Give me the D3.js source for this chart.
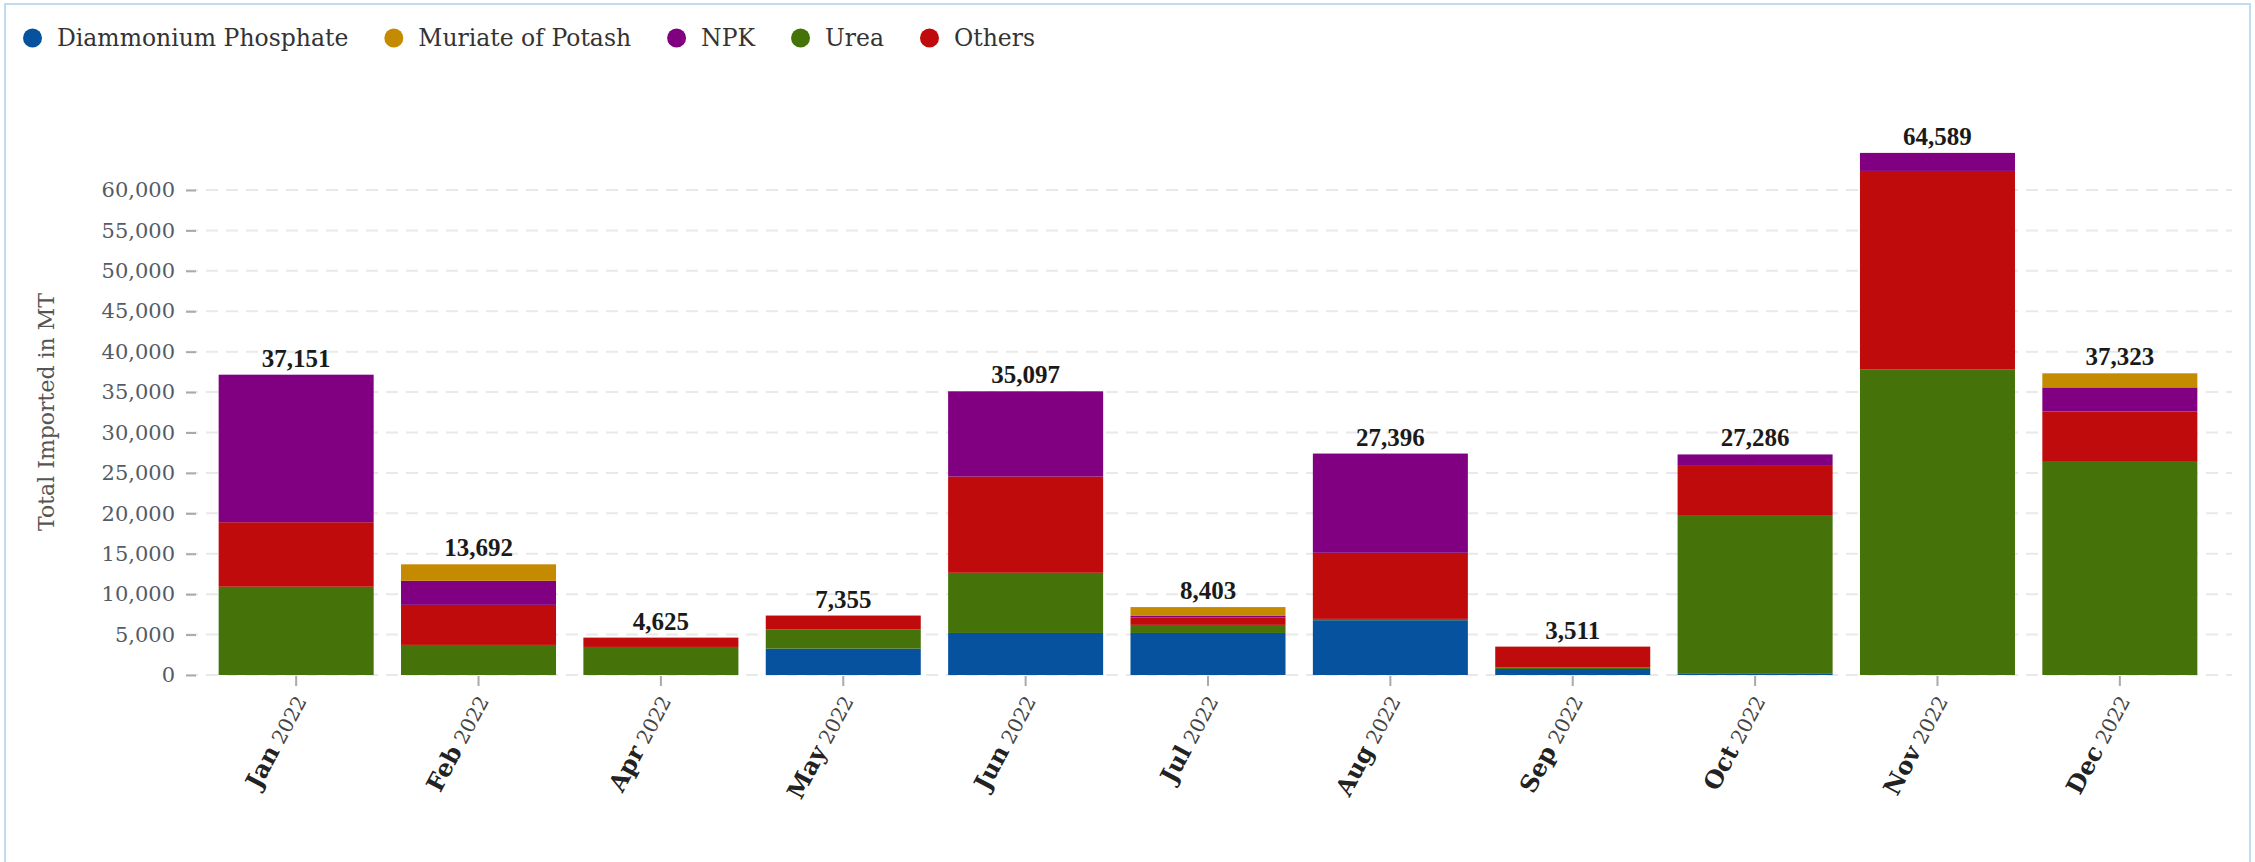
<!DOCTYPE html>
<html>
<head>
<meta charset="utf-8">
<script src="https://cdn.jsdelivr.net/npm/d3@7"></script>
<style>
  body { margin: 0; background: #fff; }
</style>
</head>
<body>
<div id="fertImports"></div>
<script>
// months shown on the x axis (Mar 2022 has no data)
var months = ["Jan", "Feb", "Apr", "May", "Jun", "Jul", "Aug", "Sep", "Oct", "Nov", "Dec"];
var year = "2022";

// series, in legend order
var products = ["Diammonium Phosphate", "Muriate of Potash", "NPK", "Urea", "Others"];
var colors = ["#07529f", "#c48a00", "#810081", "#45730a", "#bf0b0b"];

// stacking order, bottom to top
var stackOrder = ["Diammonium Phosphate", "Urea", "Others", "NPK", "Muriate of Potash"];

// tonnes imported per month (MT)
var dap    = [0,     0,    0,    3260, 5200,  5200, 6780,  740,  140,   0,     0];
var mop    = [0,     2040, 0,    0,    0,     1093, 0,     0,    0,     0,     1743];
var npk    = [18250, 2975, 0,    0,    10552, 200,  12276, 0,    1416,  2229,  2980];
var urea   = [10920, 3720, 3470, 2400, 7445,  1000, 160,   210,  19550, 37780, 26370];
var others = [7981,  4957, 1155, 1695, 11900, 910,  8180,  2561, 6180,  24580, 6230];

var yTicks = [0, 5000, 10000, 15000, 20000, 25000, 30000, 35000, 40000, 45000, 50000, 55000, 60000];

var seriesValues = {
  "Diammonium Phosphate": dap,
  "Muriate of Potash": mop,
  "NPK": npk,
  "Urea": urea,
  "Others": others
};

var data = months.map(function(m, i) {
  var row = { month: m };
  products.forEach(function(p) { row[p] = seriesValues[p][i]; });
  row.total = d3.sum(products, function(p) { return row[p]; });
  return row;
});

var width = 2255;
var height = 862;

var svg = d3.select("#fertImports")
  .append("svg")
  .attr("width", width)
  .attr("height", height)
  .style("display", "block");

// card border
svg.append("rect")
  .attr("x", 5)
  .attr("y", 4)
  .attr("width", 2245)
  .attr("height", 900)
  .attr("fill", "none")
  .attr("stroke", "#c3dbf0")
  .attr("stroke-width", 2);

var color = d3.scaleOrdinal().domain(products).range(colors);

var x = d3.scaleBand()
  .domain(months)
  .range([184, 2232])
  .paddingInner(0.15)
  .paddingOuter(0.19);

var y = d3.scaleLinear()
  .domain([0, 60000])
  .range([675, 190]);

// gridlines
svg.append("g")
  .selectAll("line")
  .data(yTicks)
  .enter()
  .append("line")
  .attr("x1", 186)
  .attr("x2", 2232)
  .attr("y1", function(d) { return y(d); })
  .attr("y2", function(d) { return y(d); })
  .attr("stroke", "#e9e9e9")
  .attr("stroke-width", 2)
  .attr("stroke-dasharray", "12,8");

// Y axis
var yAxis = svg.append("g")
  .attr("transform", "translate(196,0)")
  .call(d3.axisLeft(y).tickValues(yTicks).tickSize(10).tickPadding(11).tickFormat(d3.format(",")));

yAxis.select(".domain").remove();
yAxis.selectAll(".tick line").attr("stroke", "#aaaaaa").attr("stroke-width", 2);
yAxis.selectAll(".tick text")
  .style("font-family", "'DejaVu Serif', serif")
  .style("font-size", "21px")
  .attr("fill", "#555b66");

svg.append("text")
  .attr("transform", "translate(46,412) rotate(-90)")
  .attr("text-anchor", "middle")
  .attr("dy", "0.35em")
  .style("font-family", "'DejaVu Serif', serif")
  .style("font-size", "22px")
  .attr("fill", "#555555")
  .text("Total Imported in MT");

// stacked bars
var stacked = d3.stack().keys(stackOrder)(data);

svg.append("g")
  .selectAll("g")
  .data(stacked)
  .enter()
  .append("g")
  .attr("fill", function(d) { return color(d.key); })
  .selectAll("rect")
  .data(function(d) { return d; })
  .enter()
  .append("rect")
  .attr("x", function(d) { return x(d.data.month); })
  .attr("y", function(d) { return y(d[1]); })
  .attr("width", x.bandwidth())
  .attr("height", function(d) { return y(d[0]) - y(d[1]); });

// totals above bars
svg.append("g")
  .selectAll("text")
  .data(data)
  .enter()
  .append("text")
  .attr("x", function(d) { return x(d.month) + x.bandwidth() / 2; })
  .attr("y", function(d) { return y(d.total) - 8; })
  .attr("text-anchor", "middle")
  .style("font-family", "'Liberation Serif', serif")
  .style("font-weight", "bold")
  .style("font-size", "25px")
  .attr("fill", "#1a1a1a")
  .text(function(d) { return d3.format(",")(d.total); });

// X axis ticks and rotated labels
var xAxis = svg.append("g");

xAxis.selectAll("line")
  .data(months)
  .enter()
  .append("line")
  .attr("x1", function(d) { return x(d) + x.bandwidth() / 2; })
  .attr("x2", function(d) { return x(d) + x.bandwidth() / 2; })
  .attr("y1", 676)
  .attr("y2", 686)
  .attr("stroke", "#aaaaaa")
  .attr("stroke-width", 2);

var xLabels = xAxis.selectAll("text")
  .data(months)
  .enter()
  .append("text")
  .attr("transform", function(d) {
    return "translate(" + (x(d) + x.bandwidth() / 2 + 6) + ",698) rotate(-62)";
  })
  .attr("text-anchor", "end")
  .attr("dy", "0.35em")
  .style("font-family", "'DejaVu Serif', serif");

xLabels.append("tspan")
  .style("font-size", "24px")
  .style("font-weight", "bold")
  .attr("fill", "#222222")
  .text(function(d) { return d; });

xLabels.append("tspan")
  .style("font-size", "20px")
  .attr("fill", "#444444")
  .text(" " + year);

// Legend
var legend = svg.append("g");
var cur = 23;
products.forEach(function(p) {
  legend.append("circle")
    .attr("cx", cur + 9.5)
    .attr("cy", 38)
    .attr("r", 9.5)
    .style("fill", color(p));
  var t = legend.append("text")
    .attr("x", cur + 34)
    .attr("y", 38)
    .attr("dy", "0.35em")
    .style("font-family", "'DejaVu Serif', serif")
    .style("font-size", "23.5px")
    .attr("fill", "#333333")
    .text(p);
  cur = cur + 34 + t.node().getComputedTextLength() + 36;
});
</script>
</body>
</html>
